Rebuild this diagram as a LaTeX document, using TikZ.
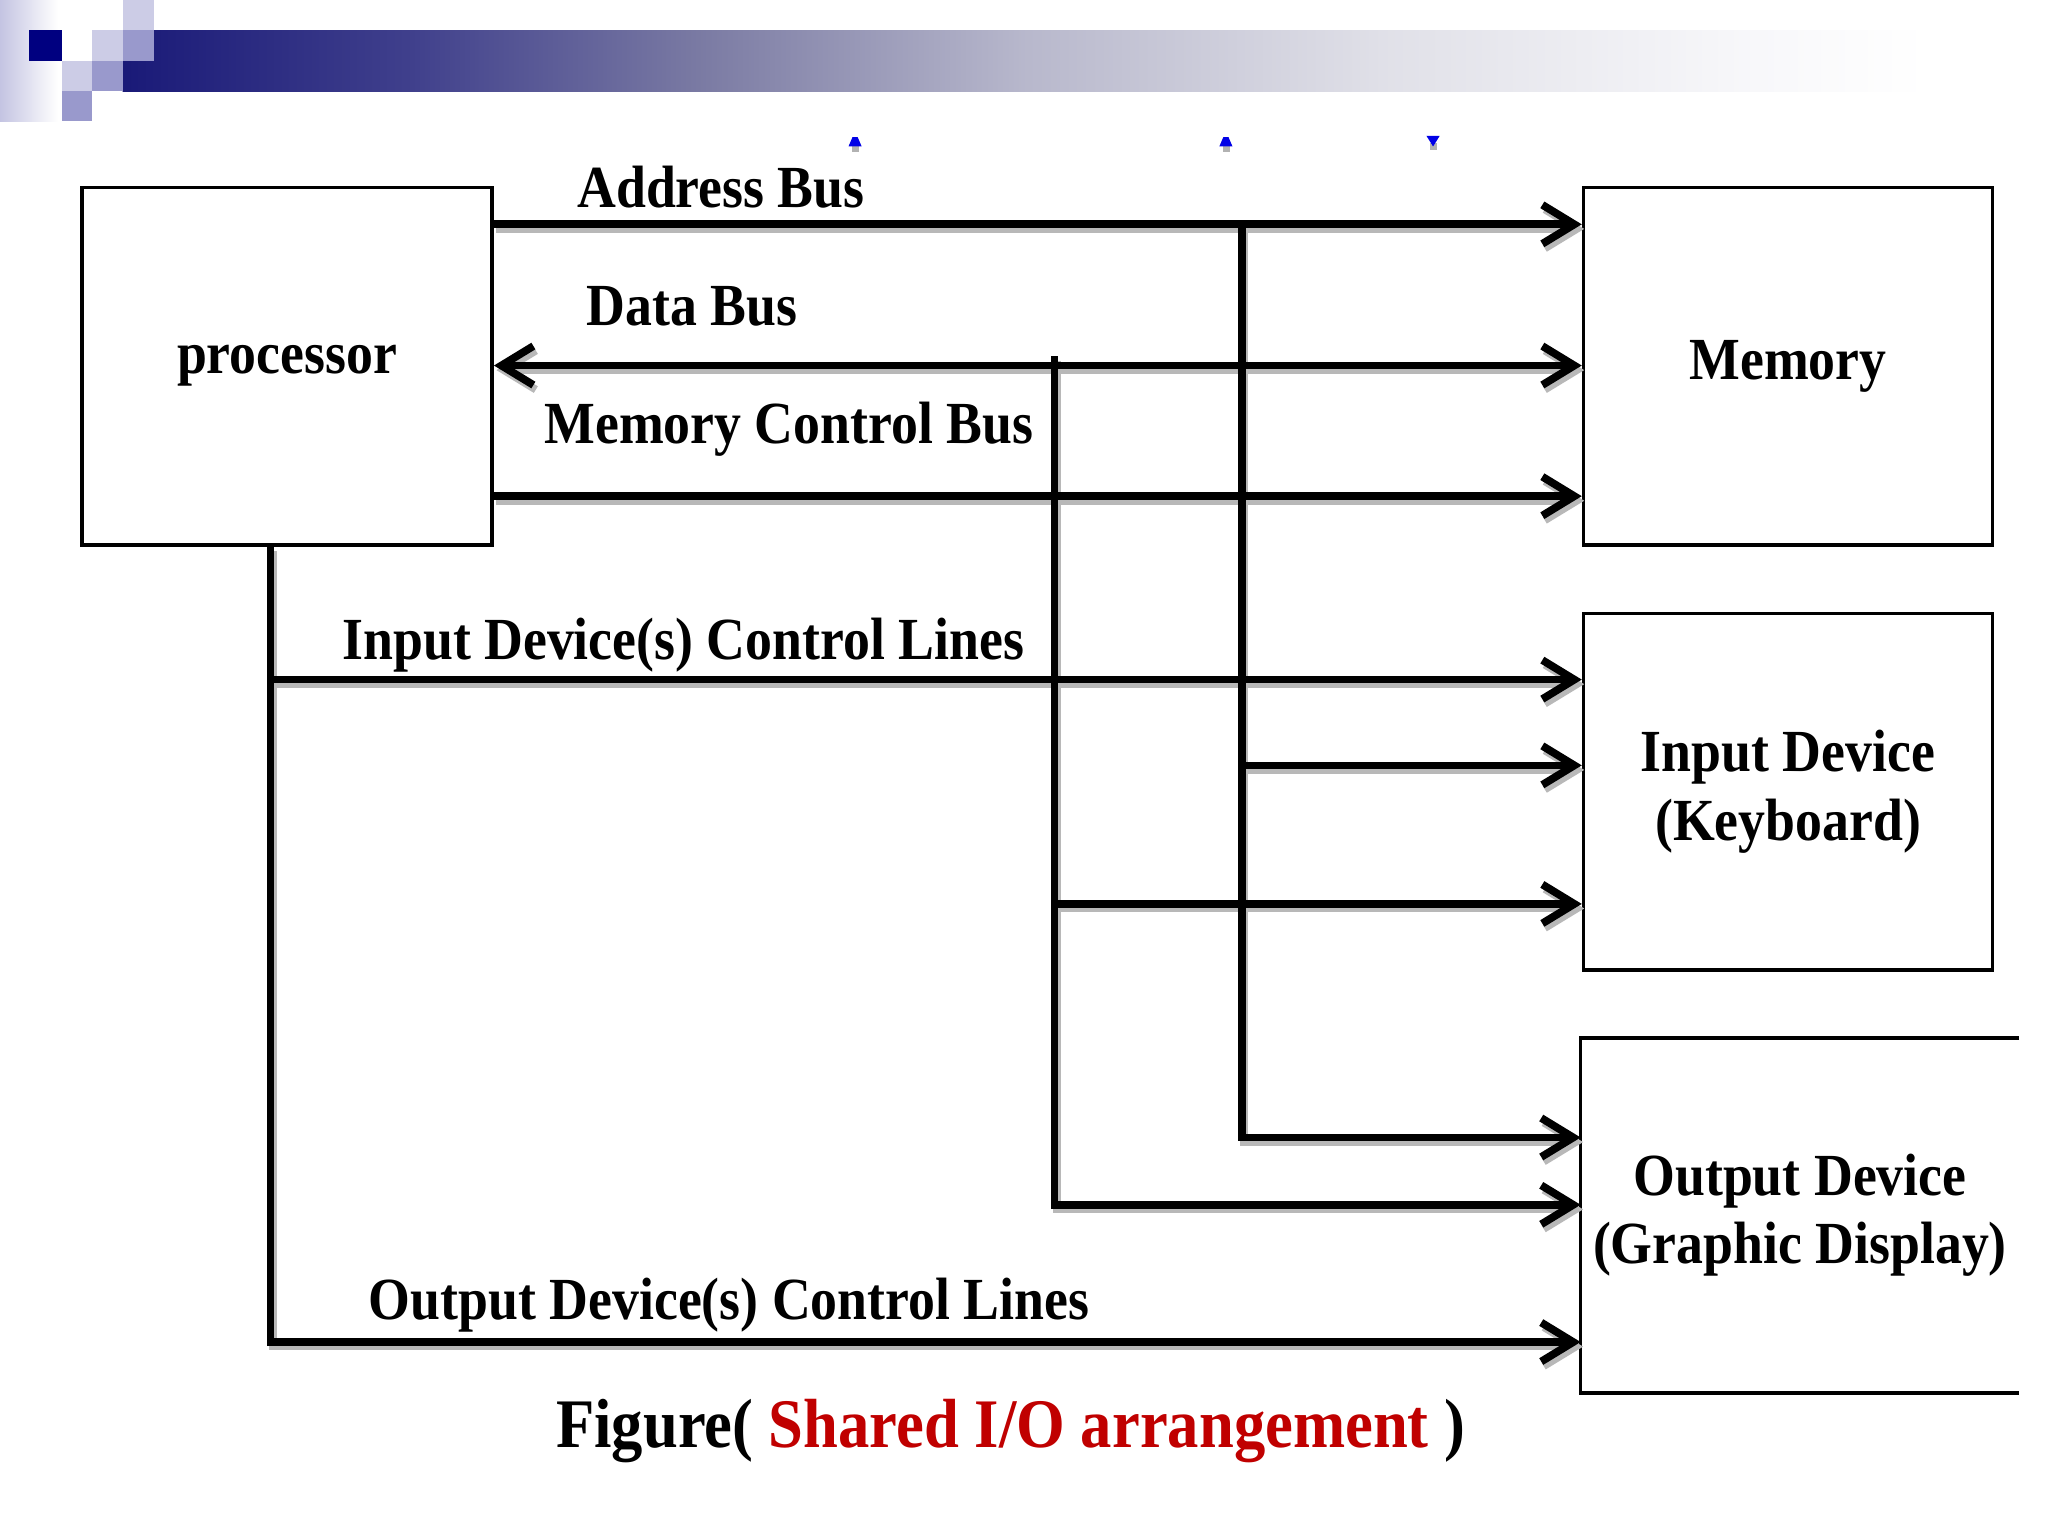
\documentclass[tikz,border=0pt]{standalone}
\usepackage{fontspec}
\setmainfont{Liberation Serif}[FakeStretch=0.9]
\usetikzlibrary{arrows.meta,calc}
\definecolor{navy}{RGB}{26,26,120}
\definecolor{darknavy}{RGB}{0,0,128}
\definecolor{lav}{RGB}{204,204,230}
\definecolor{lavm}{RGB}{153,153,204}
\definecolor{lavs}{RGB}{196,196,226}
\definecolor{capred}{RGB}{192,0,0}
\definecolor{markblue}{RGB}{0,0,230}
\pgfdeclarehorizontalshading{barshade}{100bp}{%
  rgb(0bp)=(0.10,0.10,0.47);
  rgb(25bp)=(0.10,0.10,0.47);
  rgb(33bp)=(0.25,0.25,0.55);
  rgb(41bp)=(0.48,0.48,0.64);
  rgb(50bp)=(0.72,0.72,0.80);
  rgb(60bp)=(0.88,0.88,0.91);
  rgb(70bp)=(0.97,0.97,0.98);
  rgb(75bp)=(1,1,1);
  rgb(100bp)=(1,1,1)}
\def\pu{0.0131959cm}
\newcommand\busnet[1]{%
  \draw[#1,tip] (proc.east |- yA) -- (mem.west |- yA);
  \draw[#1,bitip] (proc.east |- yD) -- (mem.west |- yD);
  \draw[#1,tip] (proc.east |- yM) -- (mem.west |- yM);
  \draw[#1,tip] (vA) -- (vAo) -- (out.west |- vAo);
  \draw[#1,tip] (vAi) -- (inp.west |- vAi);
  \draw[#1,tip] (vD) -- (vDo) -- (out.west |- vDo);
  \draw[#1,tip] (vDi) -- (inp.west |- vDi);
  \draw[#1,tip] (proc.south -| vP) -- (vP |- yO) -- (out.west |- yO);
  \draw[#1,tip] (vP |- yI) -- (inp.west |- yI);
}
\begin{document}
\begin{tikzpicture}[x=\pu, y=-\pu,
  txt/.style={font=\fontsize{17}{19.5}\selectfont\bfseries},
  lbl/.style={txt, inner sep=0pt, anchor=base west},
  box/.style={draw, line width=1pt, txt, align=center},
  bus/.style={draw=black, line width=2.2pt},
  busshadow/.style={draw=black!28, line width=2.2pt, transform canvas={shift={(0.7pt,-1.3pt)}}},
  tip/.style={-{Straight Barb[length=3.2mm,width=3.9mm]}},
  bitip/.style={{Straight Barb[length=3.2mm,width=3.9mm]}-{Straight Barb[length=3.2mm,width=3.9mm]}}]
\useasboundingbox (0,0) rectangle (1552,1164);
\fill[white] (0,0) rectangle (1552,1164);

% header decoration
\shade[left color=lavs, right color=white] (0,0) rectangle (44,92);
\shade[shading=barshade] (93,23) rectangle (1460,69);
\fill[darknavy] (22,23) rectangle (47,46);
\fill[lav] (93,0) rectangle (117,23);
\fill[lav] (70,23) rectangle (93,46);
\fill[lavm] (93,23) rectangle (117,46);
\fill[lav] (47,46) rectangle (70,69);
\fill[lavm] (70,46) rectangle (93,69);
\fill[lavm] (47,69) rectangle (70,92);

% small blue marks
\fill[black!30] (646,110) rectangle (651,115);
\fill[markblue] (643,111) -- (653,111) -- (650,104) -- (646,104) -- cycle;
\fill[black!30] (927,110) rectangle (932,115);
\fill[markblue] (924,111) -- (934,111) -- (931,104) -- (927,104) -- cycle;
\fill[black!30] (1084,108) rectangle (1089,114);
\fill[markblue] (1081,103) -- (1091,103) -- (1086,111) -- cycle;

% boxes
\node[box, minimum width=311*\pu, minimum height=271*\pu] (proc) at (217.5,277.5) {processor};
\node[box, minimum width=310*\pu, minimum height=271*\pu] (mem) at (1355,277.5) {Memory};
\node[box, minimum width=310*\pu, minimum height=270*\pu] (inp) at (1355,600) {Input Device\\(Keyboard)};
\node[txt, align=center, minimum width=328*\pu, minimum height=268*\pu] (out) at (1364,921) {Output Device\\(Graphic Display)};
\draw[line width=1pt] (out.north east) -- (out.north west) -- (out.south west) -- (out.south east);

% coordinates for buses
\coordinate (yA) at (0,170);
\coordinate (yD) at (0,277);
\coordinate (yM) at (0,376);
\coordinate (yI) at (0,515);
\coordinate (yO) at (0,1017);
\coordinate (vA) at (941,170);
\coordinate (vAi) at (941,580);
\coordinate (vAo) at (941,862);
\coordinate (vD) at (799,270);
\coordinate (vDi) at (799,685);
\coordinate (vDo) at (799,913);
\coordinate (vP) at (205,0);

\busnet{busshadow}
\busnet{bus}

% labels
\node[lbl] (lA) at (437,157) {Address Bus};
\node[lbl] (lD) at (444,247) {Data Bus};
\node[lbl] (lM) at (412,336) {Memory Control Bus};
\node[lbl] (lI) at (259,500) {Input Device(s) Control Lines};
\node[lbl] (lO) at (279,1000) {Output Device(s) Control Lines};

% caption
\node[inner sep=0pt, anchor=base west, font=\fontsize{19.8}{22}\selectfont\bfseries] (cap) at (421,1097)
  {Figure( \textcolor{capred}{Shared I/O arrangement} )};
\end{tikzpicture}
\end{document}
